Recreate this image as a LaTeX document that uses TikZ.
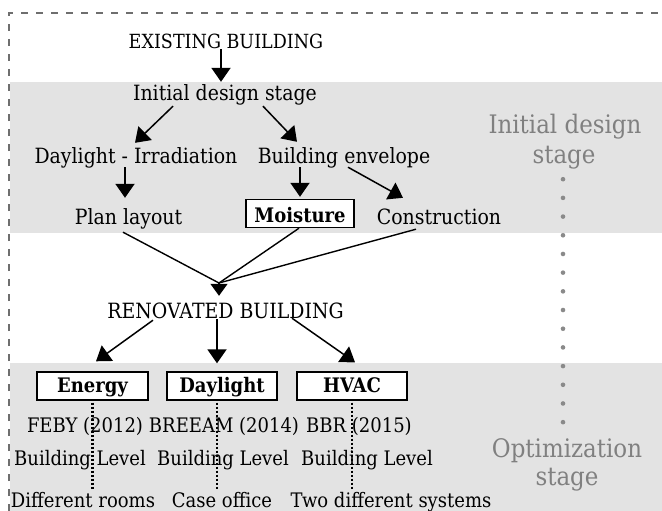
\documentclass[tikz,border=0pt]{standalone}
\usepackage{fontspec}
\setmainfont[FakeStretch=0.9]{DejaVu Serif}
\usetikzlibrary{arrows.meta}
\newcommand\fsmain{\fontsize{21pt}{25pt}\selectfont}
\newcommand\fsbot{\fontsize{20pt}{24pt}\selectfont}
\newcommand\fsbold{\fontsize{20pt}{23pt}\selectfont\bfseries}
\newcommand\fsgray{\fontsize{25.5pt}{30pt}\selectfont}
\definecolor{bandgray}{HTML}{E3E3E3}
\definecolor{graytxt}{HTML}{808080}
\definecolor{graydot}{HTML}{8A8A8A}
\definecolor{bordergray}{HTML}{6E6E6E}
\tikzset{
  txt/.style={inner sep=0pt, anchor=base, font=\fsmain, text height=15pt, text depth=5pt},
  bot/.style={txt, font=\fsbot, text height=14.5pt, text depth=4.5pt},
  capt/.style={txt, font=\fontsize{19.5pt}{23pt}\selectfont, text height=14pt, text depth=0pt},
  boxn/.style={draw, line width=1.4pt, fill=white, inner sep=0pt, font=\fsbold,
    text height=16pt, text depth=4pt, minimum height=28pt},
  glab/.style={inner sep=0pt, anchor=base, font=\fsgray, text=graytxt, text height=19pt, text depth=6pt},
  tip/.style={-{Triangle[length=14pt,width=19pt]}},
  varr/.style={tip, line width=2pt},
  darr/.style={tip, line width=1.5pt},
  dotline/.style={line width=2.4pt, dash pattern=on 1.8pt off 2.2pt},
  gdots/.style={graydot, line width=4.6pt, line cap=round, dash pattern=on 0pt off 18.69pt},
  frame/.style={bordergray, line width=1.3pt, dash pattern=on 7pt off 8pt}
}
\begin{document}
\begin{tikzpicture}[x=1pt,y=-1pt]
\useasboundingbox (0,0) rectangle (662,511);
% bands
\fill[bandgray] (10,82) rectangle (662,233);
\fill[bandgray] (10,363) rectangle (662,511);
% frame
\draw[frame] (9,511) -- (9,13) -- (662,13);

% text nodes
\node[capt] (eb) at (226,49) {EXISTING BUILDING};
\node[txt] (ids) at (225,100) {Initial design stage};
\node[txt] (day) at (136,163) {Daylight - Irradiation};
\node[txt] (env) at (344,163) {Building envelope};
\node[txt] (plan) at (128.5,224) {Plan layout};
\node[txt] (cons) at (439,224) {Construction};
\node[boxn, minimum width=108pt, text height=17pt, text depth=0pt] (moist) at (300,213.5) {Moisture};
\node[capt, font=\fsmain, text height=15pt] (renov) at (225.5,318) {RENOVATED BUILDING};
\coordinate (m) at (219,283);

\node[boxn, minimum width=111pt] (en) at (92.5,386) {Energy};
\node[boxn, minimum width=110pt] (dl) at (222,386) {Daylight};
\node[boxn, minimum width=110pt] (hv) at (352,386) {HVAC};

% arrows
\draw[varr] ([xshift=-5pt]eb.south) -- ([xshift=-4pt,yshift=3pt]ids.north);
\draw[darr] ([xshift=-52pt,yshift=-1pt]ids.south) -- ([xshift=-1pt,yshift=5pt]day.north);
\draw[darr] ([xshift=38pt,yshift=-1pt]ids.south) -- ([xshift=-47pt,yshift=6pt]env.north);
\draw[varr] ([xshift=-11pt,yshift=1pt]day.south) -- ([xshift=-3.5pt,yshift=11pt]plan.north);
\draw[varr] ([xshift=-44pt,yshift=1pt]env.south) -- ([yshift=2pt]moist.north);
\draw[darr] ([xshift=4pt,yshift=1pt]env.south) -- ([xshift=-36pt,yshift=11pt]cons.north);
\draw[line width=1.4pt] ([xshift=-5.5pt,yshift=-3pt]plan.south) -- (m);
\draw[line width=1.4pt] ([xshift=-1pt]moist.south) -- (m);
\draw[line width=1.4pt] ([xshift=-23pt]cons.south) -- (m);
\draw[-{Triangle[length=12pt,width=17pt]}, line width=1.4pt] (m) -- ([xshift=-6.5pt,yshift=7pt]renov.north);
\draw[darr] ([xshift=-72.5pt,yshift=-2pt]renov.south) -- ([xshift=3.5pt,yshift=10pt]en.north);
\draw[varr] ([xshift=-8.5pt,yshift=-1pt]renov.south) -- ([xshift=-5pt,yshift=8pt]dl.north);
\draw[darr] ([xshift=66.5pt]renov.south) -- ([xshift=3pt,yshift=9pt]hv.north);

% bottom texts
\node[bot] (feby) at (85,432) {FEBY (2012)};
\node[bot] (breeam) at (224,432) {BREEAM (2014)};
\node[bot] (bbr) at (359,432) {BBR (2015)};
\node[bot] (bl1) at (80,465) {Building Level};
\node[bot] (bl2) at (223,465) {Building Level};
\node[bot] (bl3) at (367,465) {Building Level};
\node[bot] (dr) at (83,507) {Different rooms};
\node[bot] (co) at (222,507) {Case office};
\node[bot] (tds) at (391,507) {Two different systems};

% dotted chains
\draw[dotline, shorten <=2pt, shorten >=3pt] (en.south) -- (en.south |- dr.north);
\draw[dotline, shorten <=2pt, shorten >=3pt] ([xshift=-5pt]dl.south) -- ([xshift=-5pt]dl.south |- co.north);
\draw[dotline, shorten <=2pt, shorten >=3pt] (hv.south) -- (hv.south |- tds.north);

% gray stage labels
\node[glab] (g1a) at (565,133) {Initial design};
\node[glab] (g1b) at (564,163) {stage};
\node[glab] (g2a) at (567,457) {Optimization};
\node[glab] (g2b) at (567,485) {stage};
\draw[gdots, shorten <=10pt, shorten >=15.5pt] ([xshift=-1pt]g1b.south) -- ([xshift=-1pt]g1b.south |- g2a.north);
\end{tikzpicture}
\end{document}
